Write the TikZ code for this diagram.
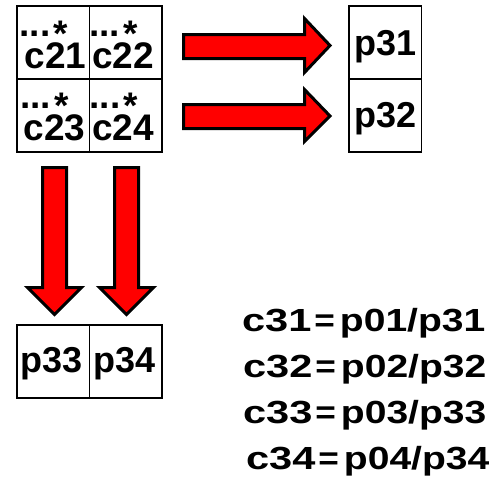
\documentclass[tikz,border=0pt]{standalone}
\usepackage{fontspec}
\setmainfont{Liberation Sans}
\usepackage{graphicx}
\newcommand{\cellfont}{\fontsize{37pt}{40pt}\selectfont\bfseries}
\newcommand{\pfont}{\fontsize{36pt}{40pt}\selectfont\bfseries}
\newcommand{\eqfont}{\fontsize{32pt}{36pt}\selectfont\bfseries}
\newcommand{\eqline}[3]{\scalebox{1.3}[1]{#1}\hspace{3pt}\scalebox{1.1}[1]{=}\hspace{5pt}\scalebox{1.22}[1]{#2/#3}}
\newcommand{\dotstar}{...\hspace{3.5pt}\raisebox{-10.5pt}[0pt][0pt]{*}}
\begin{document}
\begin{tikzpicture}[x=1pt,y=-1pt,
  box/.style={draw=black, line width=1.2pt, minimum width=72.5pt, minimum height=73pt, inner sep=0pt, outer sep=0pt, anchor=north west},
  txt/.style={anchor=base west, inner sep=0pt, outer sep=0pt},
  ptxt/.style={anchor=base, inner sep=0pt, outer sep=0pt, font=\pfont},
  fatarrow/.style={draw=black, fill=red, line width=3pt, line join=miter}]
\useasboundingbox (0,0) rectangle (493,488);
% 2x2 grid
\node[box] (b21) at (17,6) {};
\node[box] (b22) at (89.5,6) {};
\node[box] (b23) at (17,79) {};
\node[box] (b24) at (89.5,79) {};
% cell texts
\node[txt, font=\cellfont] (d21) at (19.5,36) {\dotstar};
\node[txt, font=\cellfont] (t21) at (24.5,68) {c21};
\node[txt, font=\cellfont] (d22) at (89.2,36) {\dotstar};
\node[txt, font=\cellfont] (t22) at (92,68) {c22};
\node[txt, font=\cellfont] (d23) at (20.2,108) {\dotstar};
\node[txt, font=\cellfont] (t23) at (23.7,140) {c23};
\node[txt, font=\cellfont] (d24) at (89.5,108) {\dotstar};
\node[txt, font=\cellfont] (t24) at (92,140) {c24};
% right boxes
\node[box] (b31) at (349,6) {};
\node[box] (b32) at (349,79) {};
\node[ptxt] (t31) at (385.5,55) {p31};
\node[ptxt] (t32) at (385.5,127) {p32};
% bottom boxes
\node[box] (b33) at (17,325) {};
\node[box] (b34) at (89.5,325) {};
\node[ptxt] (t33) at (52,372) {p33};
\node[ptxt] (t34) at (125,372) {p34};
% fat arrows
\draw[fatarrow] (183.5,34.5) -- (304.5,34.5) -- (304.5,18.5) -- (330,45.5) -- (304.5,72.5) -- (304.5,58.5) -- (183.5,58.5) -- cycle;
\draw[fatarrow] (183.5,104.5) -- (304.5,104.5) -- (304.5,89.5) -- (330,116) -- (304.5,141.5) -- (304.5,128.5) -- (183.5,128.5) -- cycle;
\draw[fatarrow] (42.5,167.5) -- (42.5,287.5) -- (27.5,287.5) -- (54.5,314.5) -- (81.5,287.5) -- (66.5,287.5) -- (66.5,167.5) -- cycle;
\draw[fatarrow] (114.5,167.5) -- (114.5,287.5) -- (99.5,287.5) -- (126.5,314.5) -- (153.5,287.5) -- (138.5,287.5) -- (138.5,167.5) -- cycle;
% formulas
\node[txt, font=\eqfont] (e1) at (242,331) {\eqline{c31}{p01}{p31}};
\node[txt, font=\eqfont] (e2) at (243,377) {\eqline{c32}{p02}{p32}};
\node[txt, font=\eqfont] (e3) at (243,423) {\eqline{c33}{p03}{p33}};
\node[txt, font=\eqfont] (e4) at (246,469) {\eqline{c34}{p04}{p34}};
\end{tikzpicture}
\end{document}
